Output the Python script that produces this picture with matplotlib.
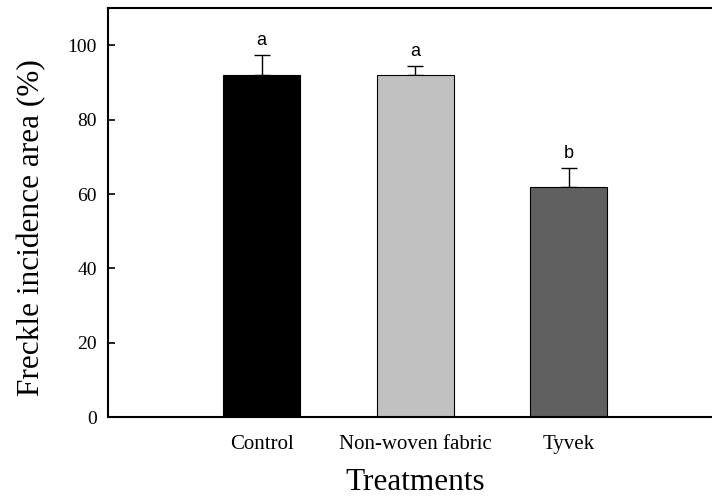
import numpy as np
import matplotlib
matplotlib.use("Agg")
import matplotlib.pyplot as plt

# data
treatments = ['Control', 'Non-woven fabric', 'Tyvek']
area = [92.0, 92.0, 62.0]
err = [5.5, 2.5, 5.0]
letters = ['a', 'a', 'b']
colors = ['black', '#c0c0c0', '#606060']

plt.rcParams['font.family'] = ['Liberation Serif', 'DejaVu Serif']

fig = plt.figure(figsize=(7.12, 5), dpi=100)
ax = fig.add_axes([0.1517, 0.1654, 0.863, 0.8186])

x = np.arange(1, len(treatments) + 1)
ax.bar(x, area, 0.5, color=colors, edgecolor='black', linewidth=0.8, zorder=2)
# error bars behind the bars so only the upper half shows
ax.errorbar(x, area, yerr=[np.zeros(3), err], fmt='none', ecolor='black',
            elinewidth=1, capsize=6, capthick=1, zorder=1)

# significance letters
for xi, yi, e, l in zip(x, area, err, letters):
    ax.text(xi, yi + e + 1.5, l, ha='center', va='bottom', fontsize=13,
            family='Liberation Sans')

ax.set_xlim(0, 4)
ax.set_ylim(0, 110)
ax.set_yticks(np.arange(0, 101, 20))
ax.set_xticks(x)
ax.set_xticklabels(treatments)
ax.tick_params(axis='y', direction='in', length=5, width=1.2, labelsize=14, pad=8)
ax.tick_params(axis='x', length=0, labelsize=15, pad=13)
ax.spines['right'].set_visible(False)
for s in ['left', 'top', 'bottom']:
    ax.spines[s].set_linewidth(1.5)

ax.set_xlabel('Treatments', fontsize=22.5, labelpad=10)
ax.set_ylabel('Freckle incidence area (%)', fontsize=22.5)
ax.yaxis.set_label_coords(-0.1, 0.463)

fig.savefig('out.png', dpi=100)
